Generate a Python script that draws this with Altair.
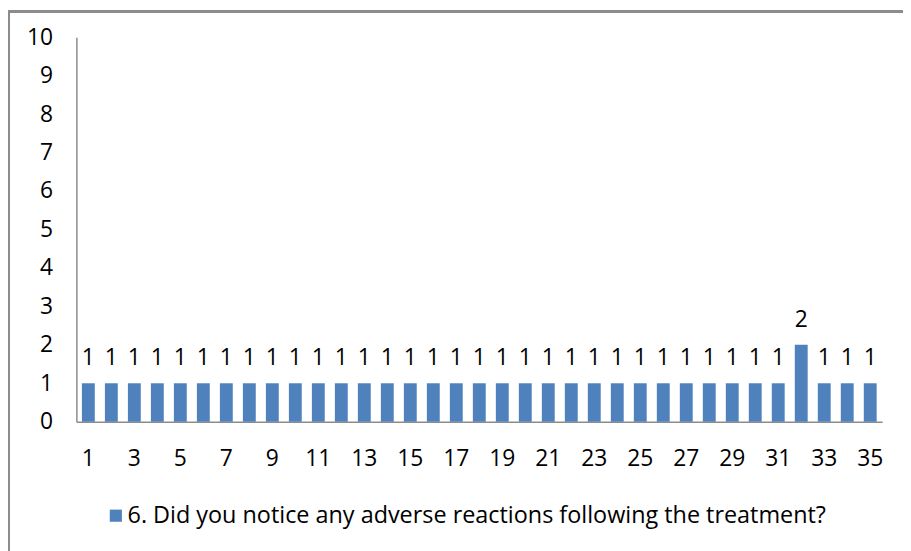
import altair as alt
import pandas as pd

respondents = list(range(1, 36))
counts = [1] * 31 + [2] + [1] * 3
series_name = "6. Did you notice any adverse reactions following the treatment?"
x_tick_labels = list(range(1, 36, 2))
y_ticks = list(range(0, 11))

df = pd.DataFrame({"respondent": respondents, "count": counts, "series": series_name})

FONT = "Open Sans"
FS = 23
BAR = "#4F81BD"
AXIS_GRAY = "#8C8C8C"

x_enc = alt.X(
    "respondent:O",
    scale=alt.Scale(paddingInner=0.44, paddingOuter=0.24),
    axis=alt.Axis(
        title=None, values=x_tick_labels, labelAngle=0, ticks=False,
        domainColor=AXIS_GRAY, domainWidth=1.5, labelPadding=26,
        labelFont=FONT, labelFontSize=FS, labelColor="black",
        labelOverlap=False,
    ),
)
y_enc = alt.Y(
    "count:Q",
    scale=alt.Scale(domain=[0, 10], nice=False),
    axis=alt.Axis(
        title=None, values=y_ticks, grid=False, ticks=False,
        domainColor=AXIS_GRAY, domainWidth=1.5, labelPadding=24,
        labelFont=FONT, labelFontSize=FS, labelColor="black",
        labelOverlap=False,
    ),
)

base = alt.Chart(df).encode(x=x_enc, y=y_enc)

bars = base.mark_bar(color=BAR).encode(
    color=alt.Color(
        "series:N",
        scale=alt.Scale(range=[BAR]),
        legend=alt.Legend(
            title=None, orient="none", legendX=28, legendY=471,
            symbolType="square", symbolSize=150, symbolStrokeWidth=0,
            labelFont=FONT, labelFontSize=23.6, labelColor="black",
            labelLimit=900, symbolOffset=0, labelOffset=0,
        ),
    ),
)

labels = base.mark_text(
    font=FONT, fontSize=FS, color="black", baseline="alphabetic", dy=-18
).encode(text="count:Q")

border_left = alt.Chart(df).mark_rule(color=AXIS_GRAY, strokeWidth=2).encode(
    x=alt.value(-68), y=alt.value(-27), y2=alt.value(520)
)
border_top = alt.Chart(df).mark_rule(color=AXIS_GRAY, strokeWidth=2).encode(
    x=alt.value(-69), x2=alt.value(840), y=alt.value(-26)
)

chart = alt.layer(bars, labels, border_left, border_top).properties(
    width=813,
    height=388,
    background="white",
    autosize=alt.AutoSizeParams(type="none"),
    padding={"left": 69, "top": 27, "right": 21, "bottom": 128},
).configure_view(stroke=None, strokeWidth=0, strokeOpacity=0)

chart.save("out.html", embed_options={"renderer": "svg", "actions": False})
